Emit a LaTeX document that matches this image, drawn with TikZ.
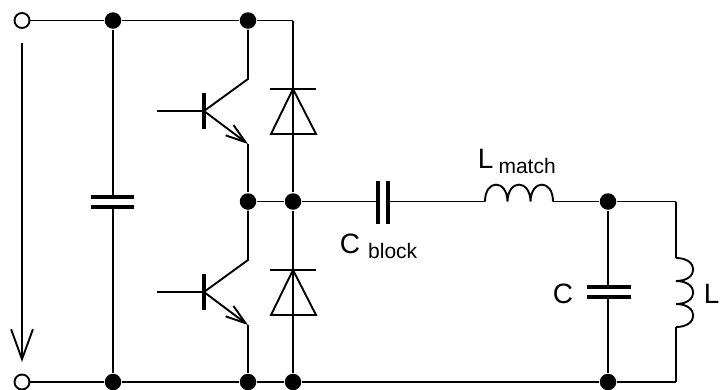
\documentclass[tikz,border=0pt]{standalone}
\usepackage{fontspec}
\setmainfont{Liberation Sans}
\usetikzlibrary{arrows.meta}

\newcommand{\sublabel}[3]{\fontsize{28}{28}\selectfont #1\hspace{#3}\raisebox{-5.5pt}{\fontsize{21}{21}\selectfont #2}}

\begin{document}
\begin{tikzpicture}[
		x=1pt, y=-1pt,
		every path/.style={line width=1.9pt},
		dot/.style={circle, fill=black, inner sep=0pt, minimum size=16.5pt},
		terminal/.style={circle, draw, fill=white, inner sep=0pt, minimum size=15pt},
		plate/.style={line width=4pt},
		txt/.style={inner sep=0pt, anchor=base west, font=\fontsize{28}{28}\selectfont}]
	\useasboundingbox (0,0) rectangle (720,389);

	\node [terminal] (InTop) at (22,20.5) {};
	\node [terminal] (InBot) at (22,382) {};
	\coordinate (ArrowA) at (22,43);
	\coordinate (ArrowB) at (22,362);

	% rail junctions
	\node [dot] (T1) at (113,20.5) {};
	\node [dot] (T2) at (248,20.5) {};
	\coordinate (T3) at (293,20.5);
	\node [dot] (M1) at (248,201.5) {};
	\node [dot] (M2) at (293,201.5) {};
	\node [dot] (M3) at (608,201.5) {};
	\coordinate (M4) at (676,201.5);
	\node [dot] (B1) at (113,382) {};
	\node [dot] (B2) at (248,382) {};
	\node [dot] (B3) at (293,382) {};
	\node [dot] (B4) at (608,382) {};
	\coordinate (B5) at (676,382);

	% rails
	\draw (InTop) -- (T1);
	\draw (T1) -- (T2);
	\draw (T2) -- (T3);
	\draw (T3) -- (M2);
	\draw (M1) -- (M2);
	\draw (InBot) -- (B1);
	\draw (B1) -- (B2);
	\draw (B2) -- (B3);
	\draw (B3) -- (B4);
	\draw (B4) -- (B5);
	\draw (M2) -- (B3);
	\draw (M3) -- (M4);

	% voltage arrow
	\draw [-{Straight Barb[length=30pt, width=24pt, angle'=40]}] (ArrowA) -- (ArrowB);

	% input capacitor
	\coordinate (CinA) at (113,197);
	\coordinate (CinB) at (113,207);
	\draw (T1) -- (CinA);
	\draw (CinB) -- (B1);
	\draw [plate] (91,197) -- (134,197);
	\draw [plate] (91,207) -- (134,207);

	% switches and diodes
	\foreach \y/\from/\to in {111/T2/M1, 292/M1/B2} {
		\coordinate (Base) at (204,\y);
		\coordinate (Col) at (248,\y-32);
		\coordinate (Emit) at (248,\y+33);
		\draw (157,\y) -- (Base);
		\draw [plate] (204,\y-18) -- (204,\y+18);
		\draw (\from) -- (Col) -- (Base);
		\draw [-{Straight Barb[length=20pt, width=13pt]}] (Base) -- (Emit);
		\draw (Emit) -- (\to);
		\draw (270,\y-22) -- (316,\y-22);
		\draw (293,\y-22) -- (271,\y+23) -- (316,\y+23) -- cycle;
	}

	% blocking capacitor
	\coordinate (CbA) at (378,201.5);
	\coordinate (CbB) at (388,201.5);
	\coordinate (LmA) at (485,201.5);
	\coordinate (LmB) at (553,201.5);
	\draw (M2) -- (CbA);
	\draw (CbB) -- (LmA);
	\draw [plate] (378,181) -- (378,224);
	\draw [plate] (388,181) -- (388,224);
	\draw (LmB) -- (M3);
	\draw (LmA) .. controls (485,179) and (507,179) .. (507.5,201.5)
		.. controls (508,179) and (530,179) .. (530.5,201.5)
		.. controls (531,179) and (553,179) .. (LmB);

	% load inductor
	\coordinate (LA) at (676,258);
	\coordinate (LB) at (676,327);
	\draw (M4) -- (LA);
	\draw (LB) -- (B5);
	\draw (LA) .. controls (699,258) and (699,281) .. (676,281)
		.. controls (699,281) and (699,304) .. (676,304)
		.. controls (699,304) and (699,327) .. (LB);

	% tank capacitor
	\coordinate (CtA) at (608,287);
	\coordinate (CtB) at (608,297);
	\draw (M3) -- (CtA);
	\draw (CtB) -- (B4);
	\draw [plate] (587,287) -- (631,287);
	\draw [plate] (587,297) -- (631,297);

	% labels
	\node [txt] (Lblock) at (339,253) {\sublabel{C}{block}{8pt}};
	\node [txt] (Lmatch) at (477,168) {\sublabel{L}{match}{5pt}};
	\node [txt] (LblC) at (552,303) {C};
	\node [txt] (LblL) at (703,303) {L};
\end{tikzpicture}
\end{document}
